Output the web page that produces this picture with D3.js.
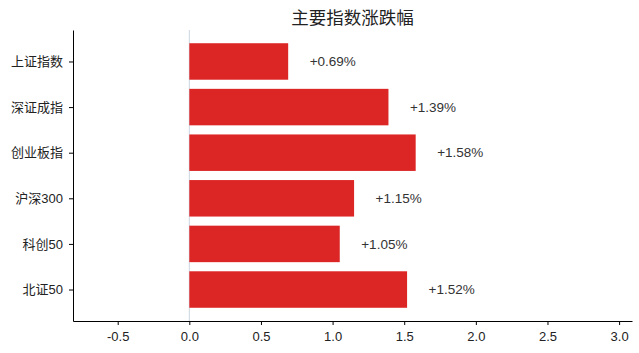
<!DOCTYPE html>
<html>
<head>
<meta charset="utf-8">
<script src="https://cdn.jsdelivr.net/npm/d3@7"></script>
<style>
  body { margin: 0; background: #fff; }
  svg { display: block; font-family: "Liberation Sans", Arial, "Noto Sans CJK SC", sans-serif; }
  .axis path, .axis line { stroke: #000; }
  .axis text { fill: #222; font-size: 13px; }
</style>
</head>
<body>
<div></div>
<script>
'use strict';

var indexNames = ["上证指数", "深证成指", "创业板指", "沪深300", "科创50", "北证50"];
var changePct = [0.69, 1.39, 1.58, 1.15, 1.05, 1.52];
var xTicks = [-0.5, 0, 0.5, 1.0, 1.5, 2.0, 2.5, 3.0];
var titleText = "主要指数涨跌幅";

// Define constants
var svgWidth = 639;
var svgHeight = 353;
var margin = {top: 30, right: 7, bottom: 32, left: 73};
var chartWidth = svgWidth - margin.left - margin.right;
var chartHeight = svgHeight - margin.top - margin.bottom;
var barColor = "#dc2626";

// Scales
var xScale = d3.scaleLinear()
    .domain([-0.812, 3.09])
    .range([0, chartWidth]);

var yScale = d3.scaleLinear()
    .domain([-0.69, 5.69])
    .range([0, chartHeight]);

var barHeight = yScale(0.8) - yScale(0);

var svg = d3.select("body").select("div")
  .append("svg")
    .attr("width", svgWidth)
    .attr("height", svgHeight);

var chart = svg.append("g")
    .attr("transform", "translate(" + margin.left + "," + margin.top + ")");

// zero line
chart.append("line")
    .attr("x1", xScale(0))
    .attr("x2", xScale(0))
    .attr("y1", 0)
    .attr("y2", chartHeight)
    .attr("stroke", "#cbd5e1")
    .attr("stroke-width", 1);

// bars
chart.selectAll("rect.bar")
    .data(changePct)
    .enter().append("rect")
    .attr("class", "bar")
    .attr("x", xScale(0))
    .attr("y", function(d, i) { return yScale(i) - barHeight / 2; })
    .attr("width", function(d) { return xScale(d) - xScale(0); })
    .attr("height", barHeight)
    .attr("fill", barColor);

// value labels
chart.selectAll("text.val")
    .data(changePct)
    .enter().append("text")
    .attr("class", "val")
    .attr("x", function(d) { return xScale(d + 0.15); })
    .attr("y", function(d, i) { return yScale(i); })
    .attr("dy", "0.35em")
    .attr("font-size", 13.5)
    .attr("fill", "#333")
    .text(function(d) { return "+" + d.toFixed(2) + "%"; });

// axes
chart.append("g")
    .attr("class", "axis")
    .attr("transform", "translate(0," + chartHeight + ")")
  .call(d3.axisBottom(xScale)
      .tickValues(xTicks)
      .tickFormat(function(d) { return d.toFixed(1); })
      .tickSize(4)
      .tickPadding(6.5)
      .tickSizeOuter(0));

chart.append("g")
    .attr("class", "axis")
  .call(d3.axisLeft(yScale)
      .tickValues(d3.range(indexNames.length))
      .tickFormat(function(i) { return indexNames[i]; })
      .tickSize(4)
      .tickPadding(6)
      .tickSizeOuter(0));

chart.selectAll(".axis").attr("font-family", null);

// title
svg.append("text")
    .attr("x", margin.left + chartWidth / 2)
    .attr("y", 24)
    .attr("text-anchor", "middle")
    .attr("font-size", 17.5)
    .attr("fill", "#222")
    .style("font-family", "'Noto Sans CJK SC', sans-serif")
    .text(titleText);
</script>
</body>
</html>
